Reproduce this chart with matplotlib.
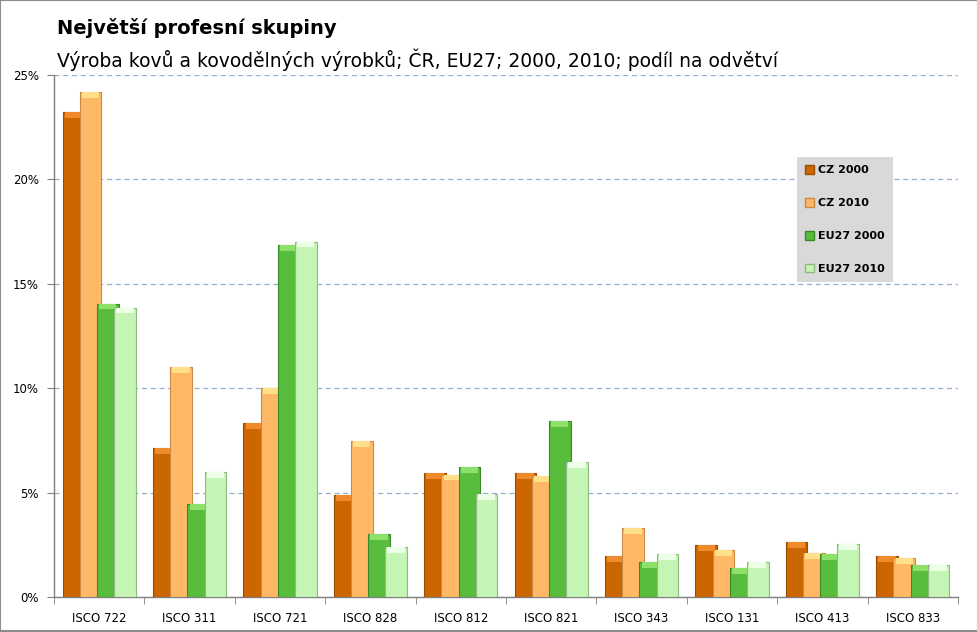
import matplotlib
matplotlib.use("Agg")
import matplotlib.pyplot as plt
import numpy as np
from matplotlib.patches import Patch
from matplotlib.ticker import FuncFormatter, MultipleLocator, FixedLocator

categories = ["ISCO 722", "ISCO 311", "ISCO 721", "ISCO 828", "ISCO 812",
              "ISCO 821", "ISCO 343", "ISCO 131", "ISCO 413", "ISCO 833"]
series_names = ["CZ 2000", "CZ 2010", "EU27 2000", "EU27 2010"]
cz_2000 = [23.24, 7.12, 8.32, 4.87, 5.92, 5.92, 1.95, 2.47, 2.62, 1.95]
cz_2010 = [24.20, 11.00, 10.00, 7.46, 5.86, 5.81, 3.29, 2.24, 2.09, 1.85]
eu_2000 = [14.05, 4.44, 16.84, 3.00, 6.21, 8.41, 1.66, 1.37, 2.04, 1.52]
eu_2010 = [13.86, 5.97, 17.02, 2.38, 4.92, 6.45, 2.04, 1.66, 2.54, 1.52]

title = "Největší profesní skupiny"
subtitle = "Výroba kovů a kovodělných výrobků; ČR, EU27; 2000, 2010; podíl na odvětví"

colors = ["#CC6600", "#FFB966", "#58BC3C", "#C4F5B4"]
edges = ["#9A4C00", "#C98A45", "#3A8A28", "#8FB884"]
highlights = ["#F08A2A", "#FFE08A", "#8EE06A", "#EEFFE8"]

plt.rcParams['font.family'] = ['DejaVu Sans']

fig = plt.figure(figsize=(9.78, 6.32), dpi=100)
ax = fig.add_axes([54/978, 1-597/632, (958-54)/978, (597-75)/632])

x = np.arange(len(categories))
step = 0.19
width = 0.24
data = [cz_2000, cz_2010, eu_2000, eu_2010]
for i, vals in enumerate(data):
    off = (i - 1.5) * step
    ax.bar(x + off, vals, width=width, color=colors[i], edgecolor=edges[i],
           linewidth=0.8, zorder=3 + i)
    hl = 0.28
    ax.bar(x + off, [hl] * len(vals), bottom=np.array(vals) - hl, width=width * 0.8,
           color=highlights[i], linewidth=0, zorder=3 + i + 0.5)

ax.set_xlim(-0.5, len(categories) - 0.5)
ax.set_ylim(0, 25)
ax.yaxis.set_major_locator(MultipleLocator(5))
ax.yaxis.set_major_formatter(FuncFormatter(lambda v, p: f"{int(v)}%"))
ax.grid(axis='y', linestyle=(0, (4, 3)), color='#94AECB', linewidth=0.9, zorder=0)
ax.set_axisbelow(True)

ax.set_xticks(x)
ax.set_xticklabels(categories, fontsize=8.5)
ax.xaxis.set_minor_locator(FixedLocator(np.arange(-0.5, len(categories), 1.0)))
ax.tick_params(axis='x', which='major', length=0, pad=11)
ax.tick_params(axis='x', which='minor', length=5, direction='out', color='#808080')
ax.tick_params(axis='y', length=5, direction='out', color='#808080', labelsize=8.5, pad=6)

for s in ['top', 'right']:
    ax.spines[s].set_visible(False)
for s in ['left', 'bottom']:
    ax.spines[s].set_color('#808080')
    ax.spines[s].set_linewidth(1)

handles = [Patch(facecolor=colors[i], edgecolor=edges[i]) for i in range(4)]
leg = ax.legend(handles, series_names, loc='upper left',
                bbox_to_anchor=(0.822, 0.843), borderaxespad=0,
                prop={'weight': 'bold', 'size': 8}, handlelength=0.75,
                handleheight=0.8, handletextpad=0.4, labelspacing=2.05,
                fancybox=False, framealpha=1, borderpad=0.75)
leg.get_frame().set_facecolor('#D9D9D9')
leg.get_frame().set_edgecolor('none')
leg.set_zorder(10)

fig.text(57/978, 1-28/632, title, fontsize=14, fontweight='bold', va='center', ha='left')
fig.text(57/978, 1-60/632, subtitle, fontsize=13.5, va='center', ha='left')

fig.patches.append(plt.Rectangle((0.0005, 0.0008), 0.999, 0.9985, transform=fig.transFigure,
                                 fill=False, edgecolor='#8C8C8C', linewidth=1.5))

fig.savefig("out.png", dpi=100)
